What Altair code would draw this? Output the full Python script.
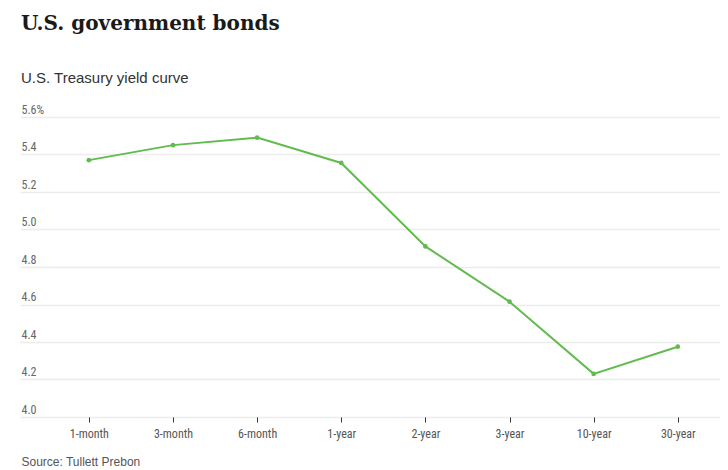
import altair as alt
import pandas as pd

maturities = ["1-month", "3-month", "6-month", "1-year", "2-year", "3-year", "10-year", "30-year"]
yields = [5.37, 5.45, 5.49, 5.355, 4.91, 4.615, 4.23, 4.375]
y_ticks = [4.0, 4.2, 4.4, 4.6, 4.8, 5.0, 5.2, 5.4, 5.6]

df = pd.DataFrame({"maturity": maturities, "yield": yields})

LABEL_FONT = "Liberation Sans Narrow, Roboto Condensed, Liberation Sans, sans-serif"
GREEN = "#62bb4f"

x = alt.X(
    "maturity:N",
    sort=maturities,
    scale=alt.Scale(type="point", padding=0.66, align=0.62),
    axis=alt.Axis(
        title="Source: Tullett Prebon",
        titleAnchor="start",
        titleAlign="left",
        titleX=1,
        titleY=48,
        titleBaseline="alphabetic",
        titleFont="Liberation Sans, Arial, sans-serif",
        titleFontSize=12,
        titleFontWeight="normal",
        titleColor="#555555",
        labelAngle=0,
        labelFont=LABEL_FONT,
        labelFontSize=12,
        labelColor="#555555",
        labelPadding=6,
        domain=False,
        ticks=True,
        tickSize=5,
        tickColor="#333333",
        grid=False,
    ),
)

y = alt.Y(
    "yield:Q",
    scale=alt.Scale(domain=[4.0, 5.6], nice=False, zero=False),
    axis=alt.Axis(
        title=None,
        values=y_ticks,
        labelExpr="datum.value == 5.6 ? '5.6%' : format(datum.value, '.1f')",
        labelAlign="left",
        labelBaseline="bottom",
        labelPadding=-1,
        labelOffset=-1,
        labelFont=LABEL_FONT,
        labelFontSize=12,
        labelColor="#666666",
        ticks=False,
        tickSize=0,
        domain=False,
        grid=True,
        gridColor="#ececec",
        gridWidth=1.5,
    ),
)

base = alt.Chart(df)
line = base.mark_line(color=GREEN, strokeWidth=2).encode(x=x, y=y)
pts = base.mark_circle(color=GREEN, size=22, opacity=1).encode(x=x, y=y)

chart = (
    alt.layer(line, pts)
    .properties(
        width=700,
        height=300,
        padding={"left": 12, "top": 6, "right": 0, "bottom": 0},
        title=alt.TitleParams(
            text="U.S. government bonds",
            subtitle="U.S. Treasury yield curve",
            anchor="start",
            font="DejaVu Serif, Georgia, serif",
            fontSize=20,
            fontWeight="bold",
            color="#1a1a1a",
            subtitleFont="Liberation Sans, Arial, sans-serif",
            subtitleFontSize=15,
            subtitleColor="#333333",
            subtitlePadding=37,
            offset=17,
            dx=1,
        ),
    )
    .configure_view(stroke=None)
)

chart.save("out.html", embed_options={"renderer": "svg", "actions": False})
